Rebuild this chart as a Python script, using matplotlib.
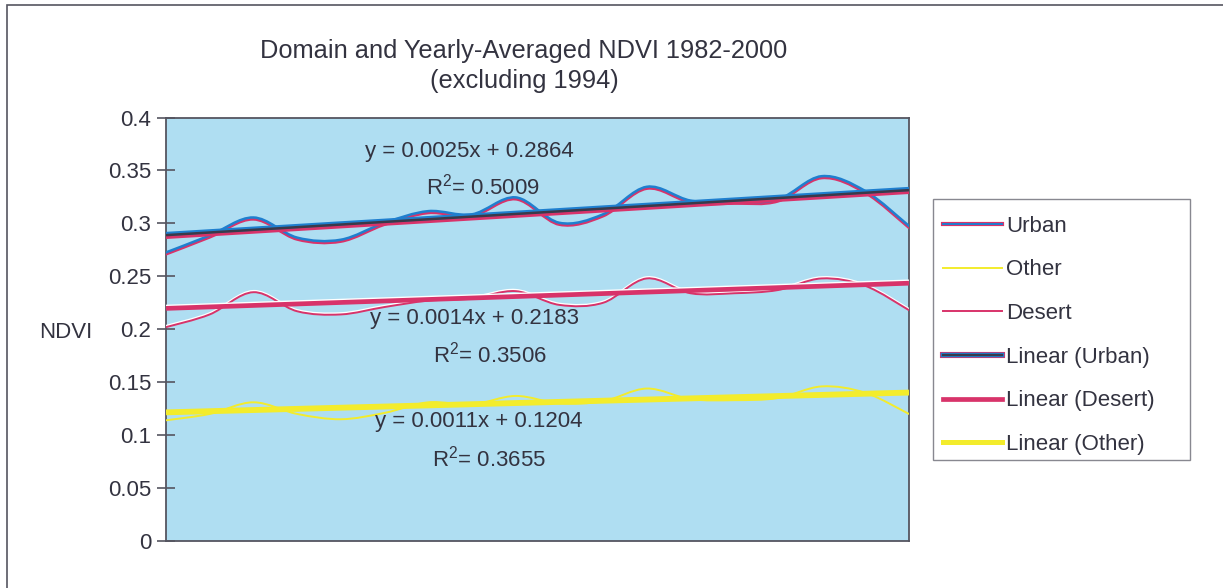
import numpy as np
import matplotlib.pyplot as plt
from matplotlib.path import Path
from matplotlib.patches import PathPatch, Rectangle
from matplotlib.lines import Line2D
from matplotlib.transforms import offset_copy
from matplotlib.legend_handler import HandlerTuple

plt.rcParams['font.family'] = ['Liberation Sans', 'DejaVu Sans']
plt.rcParams['mathtext.default'] = 'regular'

# 1982-2000, 1994 left out -> 18 yearly values
years = [1982, 1983, 1984, 1985, 1986, 1987, 1988, 1989, 1990,
         1991, 1992, 1993, 1995, 1996, 1997, 1998, 1999, 2000]
urban = [0.272, 0.288, 0.305, 0.286, 0.284, 0.300, 0.311, 0.308, 0.324,
         0.300, 0.308, 0.334, 0.321, 0.320, 0.322, 0.344, 0.330, 0.297]
desert = [0.202, 0.214, 0.235, 0.217, 0.214, 0.221, 0.227, 0.229, 0.236,
          0.223, 0.225, 0.248, 0.234, 0.234, 0.237, 0.248, 0.241, 0.218]
other = [0.114, 0.120, 0.131, 0.120, 0.115, 0.121, 0.131, 0.129, 0.137,
         0.130, 0.132, 0.144, 0.134, 0.133, 0.135, 0.146, 0.140, 0.120]

# trendline coefficients as printed on the chart
trend_slope = {'Urban': 0.0025, 'Desert': 0.0014, 'Other': 0.0011}
trend_icept = {'Urban': 0.2864, 'Desert': 0.2183, 'Other': 0.1204}
trend_r2 = {'Urban': 0.5009, 'Desert': 0.3506, 'Other': 0.3655}

yticks = [0, 0.05, 0.1, 0.15, 0.2, 0.25, 0.3, 0.35, 0.4]

BLUE = '#1f7fcf'
RED = '#d8336a'
DARK = '#3a3a4a'
YELLOW = '#f3ec2c'
BG = '#afdef2'
TXT = '#333340'


def smooth_path(x, y):
    # Excel-style smoothed line: bezier segments with catmull-rom handles
    p = np.column_stack([x, y]).astype(float)
    n = len(p)
    verts = [p[0]]
    codes = [Path.MOVETO]
    for i in range(n - 1):
        p0 = p[max(i - 1, 0)]
        p1 = p[i]
        p2 = p[i + 1]
        p3 = p[min(i + 2, n - 1)]
        c1 = p1 + (p2 - p0) / 6.0
        c2 = p2 - (p3 - p1) / 6.0
        verts += [c1, c2, p2]
        codes += [Path.CURVE4] * 3
    return Path(verts, codes)


def draw_smooth(ax, x, y, color, lw, dy=0.0, z=3):
    tr = offset_copy(ax.transData, fig=ax.figure, x=0, y=dy, units='dots')
    patch = PathPatch(smooth_path(x, y), facecolor='none', edgecolor=color,
                      lw=lw, transform=tr, zorder=z, capstyle='round')
    ax.add_patch(patch)


def draw_trend(ax, x, slope, icept, color, lw, dy=0.0, z=5):
    tr = offset_copy(ax.transData, fig=ax.figure, x=0, y=dy, units='dots')
    xs = np.array([x[0], x[-1]], dtype=float)
    ax.plot(xs, slope * xs + icept, color=color, lw=lw, transform=tr,
            zorder=z, solid_capstyle='butt')


fig = plt.figure(figsize=(12.23, 5.88), dpi=100)
W, H = 1223.0, 588.0

# outer chart border (only top and left edges are inside the picture)
fig.patches.append(Rectangle((7 / W, -0.2), 1.2, 1.2 - 5 / H,
                             transform=fig.transFigure, fill=False,
                             edgecolor='#555560', lw=1.2))
# legend box outline
fig.patches.append(Rectangle((933 / W, 1 - 460 / H), 257 / W, 261 / H,
                             transform=fig.transFigure, fill=False,
                             edgecolor='#888890', lw=1.0))

ax = fig.add_axes([166 / W, 1 - 541 / H, (909 - 166) / W, (541 - 117.5) / H])
ax.set_facecolor(BG)

x = np.arange(1, len(years) + 1)

# data series (misregistered print look: colour edges offset by a pixel)
draw_smooth(ax, x, urban, RED, 2.0, dy=-1.2, z=3)
draw_smooth(ax, x, urban, BLUE, 1.8, dy=0.6, z=3.1)
draw_smooth(ax, x, desert, 'white', 1.4, dy=1.3, z=3)
draw_smooth(ax, x, desert, RED, 1.4, dy=0.0, z=3.1)
draw_smooth(ax, x, other, YELLOW, 1.4, z=3)

# linear trendlines
draw_trend(ax, x, trend_slope['Urban'], trend_icept['Urban'], RED, 3.0, dy=-1.8)
draw_trend(ax, x, trend_slope['Urban'], trend_icept['Urban'], BLUE, 3.0, dy=1.2, z=5.1)
draw_trend(ax, x, trend_slope['Urban'], trend_icept['Urban'], DARK, 1.8, z=5.2)
draw_trend(ax, x, trend_slope['Desert'], trend_icept['Desert'], 'white', 3.2, dy=1.5)
draw_trend(ax, x, trend_slope['Desert'], trend_icept['Desert'], RED, 3.4, z=5.1)
draw_trend(ax, x, trend_slope['Other'], trend_icept['Other'], YELLOW, 4.2)

ax.set_xlim(1, len(years))
ax.set_ylim(0, 0.4)
ax.set_xticks([])
ax.set_yticks(yticks)
ax.set_yticklabels(['%g' % v for v in yticks])
ax.tick_params(axis='y', direction='inout', length=13, width=1.2,
               color='#555560', labelsize=16, labelcolor=TXT, pad=4)
for s in ax.spines.values():
    s.set_color('#555560')
    s.set_linewidth(1.3)

# titles and labels
fig.text(524 / W, 1 - 58 / H, 'Domain and Yearly-Averaged NDVI 1982-2000',
         ha='center', va='baseline', fontsize=18.3, color=TXT)
fig.text(524 / W, 1 - 88 / H, '(excluding 1994)',
         ha='center', va='baseline', fontsize=18.3, color=TXT)
fig.text(66 / W, 1 - 338 / H, 'NDVI', ha='center', va='baseline',
         fontsize=16, color=TXT)

# trendline equations
eq_pos = {'Urban': (469, 157.5, 483, 195),
          'Desert': (475, 324, 490, 363),
          'Other': (479, 427, 489, 467)}
for name, (ex, ey, rx, ry) in eq_pos.items():
    fig.text(ex / W, 1 - ey / H,
             'y = %.4fx + %.4f' % (trend_slope[name], trend_icept[name]),
             ha='center', va='baseline', fontsize=16, color=TXT)
    fig.text(rx / W, 1 - ry / H, 'R$^{2}$= %.4f' % trend_r2[name],
             ha='center', va='baseline', fontsize=16, color=TXT)

# legend (frame drawn separately above)
h_urban = (Line2D([], [], color=RED, lw=3.0), Line2D([], [], color=BLUE, lw=1.4))
h_other = Line2D([], [], color=YELLOW, lw=1.4)
h_desert = Line2D([], [], color=RED, lw=1.4)
h_lurban = (Line2D([], [], color=RED, lw=4.4), Line2D([], [], color=BLUE, lw=3.2),
            Line2D([], [], color=DARK, lw=1.6))
h_ldesert = Line2D([], [], color=RED, lw=3.4)
h_lother = Line2D([], [], color=YELLOW, lw=3.6)
leg = ax.legend([h_urban, h_other, h_desert, h_lurban, h_ldesert, h_lother],
                ['Urban', 'Other', 'Desert', 'Linear (Urban)',
                 'Linear (Desert)', 'Linear (Other)'],
                handler_map={tuple: HandlerTuple(ndivide=1)},
                loc='upper left', bbox_to_anchor=(926 / W, 1 - 199 / H, 264 / W, 0),
                bbox_transform=fig.transFigure, mode='expand',
                fontsize=16, labelcolor=TXT, frameon=False, borderpad=0.75,
                labelspacing=1.02, handlelength=2.65, handletextpad=0.22,
                borderaxespad=0)

fig.savefig('out.png', dpi=100)
